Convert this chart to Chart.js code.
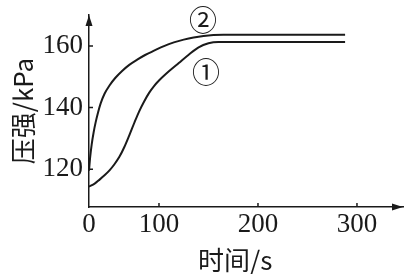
<!DOCTYPE html>
<html>
<head>
<meta charset="utf-8">
<script src="https://cdn.jsdelivr.net/npm/chart.js@4"></script>
<style>
  html, body { margin: 0; padding: 0; background: #fff; }
  #wrap { width: 410px; height: 274px; }
</style>
</head>
<body>
<div id="wrap"><canvas id="c"></canvas></div>
<script>
// ======================================================
// DATA
// ======================================================
// the printed axis puts "0" at the origin but spaces 100/200/300 wider,
// so times are kept in the tick-label units and the origin sits at ~29
const X_ORIGIN = 29.3;
const xTicks = [X_ORIGIN, 100, 200, 300];
const xTickLabels = ["0", "100", "200", "300"];
const yTicks = [120, 140, 160];
const xTitle = "时间/s";
const yTitle = "压强/kPa";

// curve ①
const time1 = [29.3, 35, 40, 45, 50, 55, 60, 65, 70, 75, 80, 85, 90, 95, 100, 110, 120, 130, 140, 150, 160, 170, 288];
const pressure1 = [114.3, 115.3, 116.6, 118, 119.6, 121.6, 124, 127.2, 131, 135, 138.8, 142, 144.8, 147, 148.8, 151.8, 154.5, 157.2, 159.6, 160.9, 161.3, 161.3, 161.3];

// curve ②
const time2 = [29.3, 30.5, 32, 34, 36, 38.5, 41, 45, 50, 56, 63, 70, 78, 86, 95, 105, 115, 125, 135, 145, 155, 165, 288];
const pressure2 = [119.5, 124, 128, 132, 135.2, 138.5, 141.3, 144.5, 147.2, 149.7, 152, 153.9, 155.6, 157.1, 158.5, 160, 161.2, 162.1, 162.8, 163.3, 163.6, 163.7, 163.7];

const INK = "#1a1a1a";
const SERIF = "'Liberation Serif', serif";
const CJK = "'Noto Sans CJK SC', sans-serif";

// ======================================================
// PLUGIN: arrows, inward ticks, x title, circled labels
// ======================================================
const decorations = {
    id: "decorations",
    afterDraw(chart) {
        const { ctx, chartArea: a, scales: { x, y } } = chart;
        ctx.save();
        ctx.fillStyle = INK;
        ctx.strokeStyle = INK;
        ctx.lineWidth = 1.5;

        // arrow heads
        ctx.beginPath();
        ctx.moveTo(a.left, a.top);
        ctx.lineTo(a.left - 3.5, a.top + 11);
        ctx.lineTo(a.left + 3.5, a.top + 11);
        ctx.closePath();
        ctx.fill();

        ctx.beginPath();
        ctx.moveTo(a.right, a.bottom);
        ctx.lineTo(a.right - 11, a.bottom - 3.5);
        ctx.lineTo(a.right - 11, a.bottom + 3.5);
        ctx.closePath();
        ctx.fill();

        // small inward ticks
        ctx.beginPath();
        yTicks.forEach(v => {
            const py = y.getPixelForValue(v);
            ctx.moveTo(a.left, py);
            ctx.lineTo(a.left + 4, py);
        });
        xTicks.slice(1).forEach(v => {
            const px = x.getPixelForValue(v);
            ctx.moveTo(px, a.bottom);
            ctx.lineTo(px, a.bottom - 4);
        });
        ctx.stroke();

        ctx.textAlign = "center";
        ctx.textBaseline = "middle";

        // x axis title, centred under the 200 tick a little to the left
        ctx.font = "26px " + CJK;
        ctx.fillText(xTitle, x.getPixelForValue(177), a.bottom + 53);

        // curve labels
        ctx.font = "28px " + CJK;
        ctx.fillText("②", x.getPixelForValue(144.4), y.getPixelForValue(168.5));
        ctx.fillText("①", x.getPixelForValue(147.5), y.getPixelForValue(151.5));
        ctx.restore();
    }
};

// ======================================================
// CHART
// ======================================================
const lineStyle = {
    borderColor: INK,
    borderWidth: 2,
    pointRadius: 0,
    fill: false,
    cubicInterpolationMode: "monotone"
};

new Chart(document.getElementById("c"), {
    type: "line",
    data: {
        datasets: [
            { ...lineStyle, label: "curve 1", data: time1.map((t, i) => ({ x: t, y: pressure1[i] })) },
            { ...lineStyle, label: "curve 2", data: time2.map((t, i) => ({ x: t, y: pressure2[i] })) }
        ]
    },
    options: {
        responsive: true,
        maintainAspectRatio: false,
        animation: false,
        layout: { padding: { left: 0, right: 7, top: 15, bottom: 0 } },
        plugins: { legend: { display: false } },
        scales: {
            x: {
                type: "linear",
                min: X_ORIGIN,
                max: 346.5,
                afterFit: s => { s.height = 67; s.paddingLeft = 0; s.paddingRight = 0; },
                afterBuildTicks: s => { s.ticks = xTicks.map(v => ({ value: v })); },
                grid: { display: false, drawTicks: false },
                border: { display: true, color: INK, width: 1.5 },
                ticks: {
                    color: INK,
                    padding: 2,
                    font: { family: SERIF, size: 27 },
                    callback: (v, i) => xTickLabels[i]
                },
                title: { display: false }
            },
            y: {
                min: 107.7,
                max: 170.1,
                afterFit: s => { s.width = 89; s.paddingTop = 0; s.paddingBottom = 0; },
                afterBuildTicks: s => { s.ticks = yTicks.map(v => ({ value: v })); },
                grid: { display: false, drawTicks: false },
                border: { display: true, color: INK, width: 1.5 },
                ticks: {
                    color: INK,
                    padding: 6,
                    font: { family: SERIF, size: 27 }
                },
                title: {
                    display: true,
                    text: yTitle,
                    color: INK,
                    padding: { top: 10, bottom: 0 },
                    font: { family: CJK, size: 26, lineHeight: 1 }
                }
            }
        }
    },
    plugins: [decorations]
});
</script>
</body>
</html>
